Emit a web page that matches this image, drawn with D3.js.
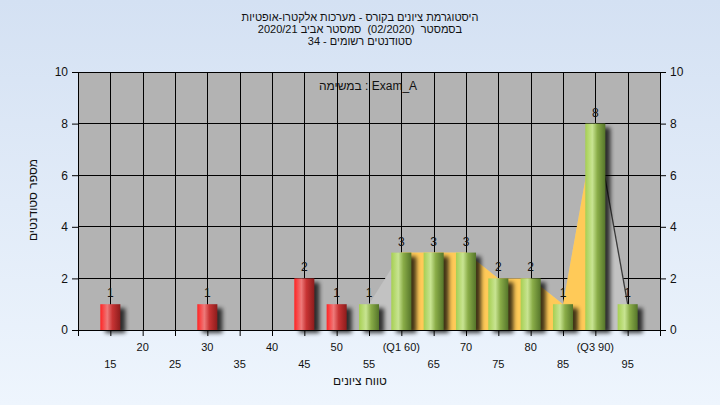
<!DOCTYPE html>
<html><head><meta charset="utf-8">
<script src="https://cdn.jsdelivr.net/npm/d3@7"></script>
<style>
html,body{margin:0;padding:0;background:#e4edf9;}
svg{display:block;}
text{font-family:"Liberation Sans",Arial,sans-serif;fill:#111;}
</style></head>
<body>
<svg id="chart" width="720" height="405"></svg>
<script>
// ---- data ----
const categories = [15,20,25,30,35,40,45,50,55,60,65,70,75,80,85,90,95];
const counts     = [1, 0, 0, 1, 0, 0, 2, 1, 1, 3, 3, 3, 2, 2, 1, 8, 1];
const topTickValues = [20,30,40,50,60,70,80,90];
const topTickLabels = ["20","30","40","50","(Q1 60)","70","80","(Q3 90)"];
const bottomTickValues = [15,25,35,45,55,65,75,85,95];
const bottomTickLabels = ["15","25","35","45","55","65","75","85","95"];
const yTicks = [0,2,4,6,8,10];
const passGrade = 55;
const q1 = 60, q3 = 90;
const titleLines = [
  "היסטוגרמת ציונים בקורס - מערכות אלקטרו-אופטיות",
  "בסמסטר  (02/2020)  סמסטר אביב 2020/21",
  "סטודנטים רשומים - 34"
];
const legendText = "במשימה : Exam_A";
const xTitle = "טווח ציונים";
const yTitle = "מספר סטודנטים";

// ---- setup ----
const W = 720, H = 405;
const svg = d3.select("#chart");
const defs = svg.append("defs");

const bg = defs.append("linearGradient").attr("id","bg").attr("x1",0).attr("y1",0).attr("x2",0).attr("y2",1);
bg.append("stop").attr("offset","0%").attr("stop-color","#d4e1f3");
bg.append("stop").attr("offset","100%").attr("stop-color","#eef5fd");

function barGrad(id, c0, c1, c2, c3){
  const g = defs.append("linearGradient").attr("id",id).attr("x1",0).attr("y1",0).attr("x2",1).attr("y2",0);
  g.append("stop").attr("offset","0%").attr("stop-color",c0);
  g.append("stop").attr("offset","35%").attr("stop-color",c1);
  g.append("stop").attr("offset","60%").attr("stop-color",c2);
  g.append("stop").attr("offset","100%").attr("stop-color",c3);
}
barGrad("gRed","#ff2424","#ee7a7a","#c83434","#8c1c1c");
barGrad("gGreen","#a6cf52","#c8e492","#8aad48","#55752a");

const sh = defs.append("filter").attr("id","shadow").attr("x","-30%").attr("y","-30%").attr("width","170%").attr("height","170%");
sh.append("feGaussianBlur").attr("stdDeviation",2);

svg.append("rect").attr("width",W).attr("height",H).attr("fill","url(#bg)");

const x = d3.scaleLinear().domain([10,100]).range([78,660]);
const y = d3.scaleLinear().domain([0,10]).range([330,72]);
const step = x(15) - x(10);
const bw = step * 0.62;

// plot background
svg.append("rect").attr("x",x(10)).attr("y",y(10)).attr("width",x(100)-x(10)).attr("height",y(0)-y(10)).attr("fill","#b3b3b3");

// grid
svg.append("g").selectAll("line").data(yTicks.filter(d=>d>0)).join("line")
  .attr("x1",x(10)).attr("x2",x(100)).attr("y1",d=>y(d)).attr("y2",d=>y(d))
  .attr("stroke","#000").attr("stroke-width",1).attr("shape-rendering","crispEdges");
svg.append("g").selectAll("line").data(categories).join("line")
  .attr("x1",d=>Math.round(x(d))+0.5).attr("x2",d=>Math.round(x(d))+0.5).attr("y1",y(10)).attr("y2",y(0))
  .attr("stroke","#000").attr("stroke-width",1);

// area (outside Q1..Q3 grey, inside yellow)
const pts = categories.map((c,i)=>({c, v:counts[i]})).filter(d=>d.c>=passGrade);
const area = d3.area().x(d=>x(d.c)).y0(y(0)).y1(d=>y(d.v));
svg.append("path").datum(pts).attr("d",area).attr("fill","#c2c2c2");
svg.append("path").datum(pts.filter(d=>d.c>=q1 && d.c<=q3)).attr("d",area).attr("fill","#ffca58");
svg.append("path").datum(pts.filter(d=>d.c>=q3)).attr("d",d3.line().x(d=>x(d.c)).y(d=>y(d.v)))
  .attr("fill","none").attr("stroke","#3a3a3a").attr("stroke-width",1.3);

// bars
const bars = categories.map((c,i)=>({c, v:counts[i]})).filter(d=>d.v>0);
svg.append("g").selectAll("rect").data(bars).join("rect")
  .attr("x",d=>x(d.c)-bw/2+5).attr("y",d=>y(d.v)+4).attr("width",bw).attr("height",d=>y(0)-y(d.v)-1)
  .attr("fill","#000").attr("opacity",0.75).attr("filter","url(#shadow)");
svg.append("g").selectAll("rect").data(bars).join("rect")
  .attr("x",d=>x(d.c)-bw/2).attr("y",d=>y(d.v)).attr("width",bw).attr("height",d=>y(0)-y(d.v))
  .attr("fill",d=>d.c<passGrade?"url(#gRed)":"url(#gGreen)");
svg.append("g").selectAll("text").data(bars).join("text")
  .attr("x",d=>x(d.c)).attr("y",d=>y(d.v)-7).attr("text-anchor","middle")
  .attr("font-size",12).attr("fill","#1a1a2a").text(d=>d.v);

// axes
const axL = svg.append("g").attr("transform",`translate(${x(10)},0)`)
  .call(d3.axisLeft(y).tickValues(yTicks).tickSize(6).tickPadding(4));
const axR = svg.append("g").attr("transform",`translate(${x(100)},0)`)
  .call(d3.axisRight(y).tickValues(yTicks).tickSize(6).tickPadding(4));
const axB = svg.append("g").attr("transform",`translate(0,${y(0)})`)
  .call(d3.axisBottom(x).tickValues(d3.range(10,101,5)).tickSize(6).tickFormat(""));
[axL,axR,axB].forEach(a=>{
  a.selectAll("path,line").attr("stroke","#000");
  a.selectAll("text").attr("font-size",12).attr("fill","#111").attr("font-family","Liberation Sans, Arial, sans-serif");
});

// x labels (two rows)
svg.append("g").selectAll("text").data(topTickValues).join("text")
  .attr("x",d=>x(d)).attr("y",351).attr("text-anchor","middle").attr("font-size",11)
  .text((d,i)=>topTickLabels[i]);
svg.append("g").selectAll("text").data(bottomTickValues).join("text")
  .attr("x",d=>x(d)).attr("y",368).attr("text-anchor","middle").attr("font-size",11)
  .text((d,i)=>bottomTickLabels[i]);

// titles
svg.append("g").selectAll("text").data(titleLines).join("text")
  .attr("x",360).attr("y",(d,i)=>21+i*12).attr("text-anchor","middle").attr("font-size",11)
  .attr("direction","rtl").style("white-space","pre").text(d=>d);
svg.append("text").attr("x",368).attr("y",90).attr("text-anchor","middle").attr("font-size",12).text(legendText);
svg.append("text").attr("x",360).attr("y",385).attr("text-anchor","middle").attr("font-size",12).text(xTitle);
svg.append("text").attr("transform","translate(37,200) rotate(-90)").attr("text-anchor","middle").attr("font-size",12).text(yTitle);
</script>
</body></html>
